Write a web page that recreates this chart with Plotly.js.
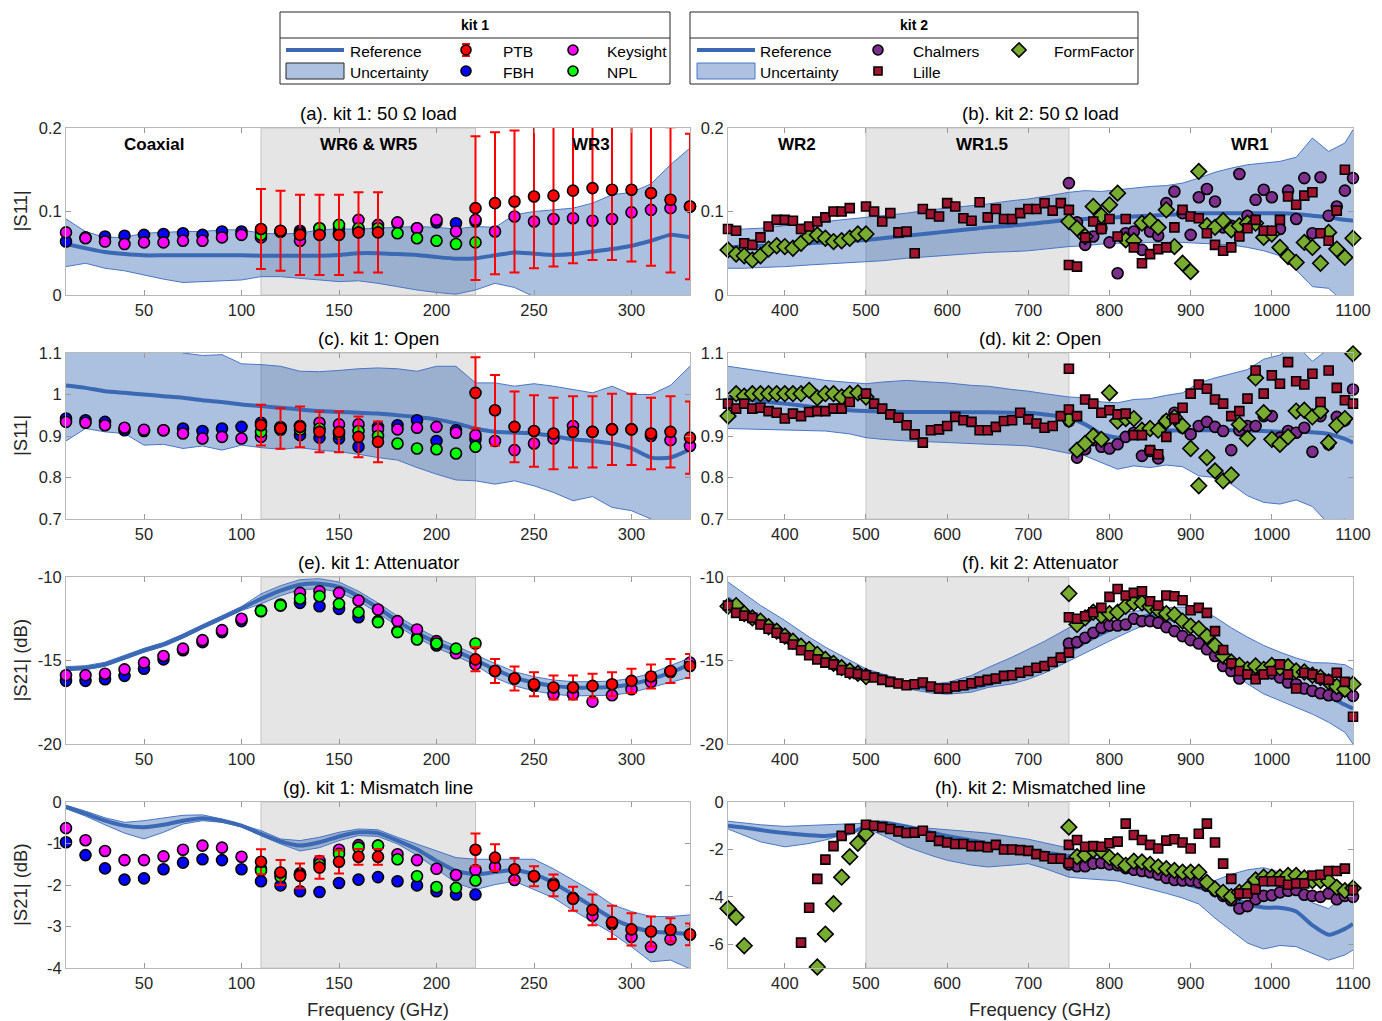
<!DOCTYPE html>
<html><head><meta charset="utf-8">
<script src="https://cdn.plot.ly/plotly-3.0.1.min.js"></script>
<style>body{margin:0;background:#fff}#chart{width:1382px;height:1021px}</style>
</head><body><div id="chart"></div>
<script>
// ---------- frequencies ----------
const F1 = [10,20,30,40,50,60,70,80,90,100,110,120,130,140,150,160,170,180,190,200,210,220,230,240,250,260,270,280,290,300,310,320,330];
const F2low = [330,340,350,360,370,380,390,400,410,420,430,440,450,460,470,480,490,500,510,520,530,540,550,560,570,580,590,600,610,620,630,640,650,660,670,680,690,700,710,720,730,740,750];
const F2wr1 = [750,760,770,780,790,800,810,820,830,840,850,860,870,880,890,900,910,920,930,940,950,960,970,980,990,1000,1010,1020,1030,1040,1050,1060,1070,1080,1090,1100];
const F2ff = [330,340,350,360,370,380,390,400,410,420,430,440,450,460,470,480,490,500];
const F2ref = [330,350,370,400,430,450,480,500,520,550,580,600,630,650,680,700,720,750,770,790,810,830,850,870,890,910,930,950,970,990,1010,1030,1050,1070,1090,1100];

// ---------- (a) kit 1: 50 ohm load ----------
const a_ref = [0.061,0.056,0.0515,0.049,0.0475,0.0475,0.0475,0.0475,0.0475,0.0475,0.047,0.047,0.047,0.047,0.048,0.050,0.050,0.049,0.048,0.0455,0.0435,0.044,0.0475,0.051,0.0495,0.048,0.049,0.052,0.055,0.059,0.065,0.072,0.069];
const a_up = [0.091,0.076,0.069,0.069,0.074,0.075,0.076,0.076,0.078,0.078,0.074,0.073,0.074,0.078,0.079,0.079,0.080,0.081,0.082,0.081,0.079,0.082,0.081,0.096,0.100,0.102,0.104,0.110,0.120,0.123,0.133,0.156,0.176];
const a_lo = [0.034,0.038,0.032,0.029,0.024,0.019,0.015,0.016,0.017,0.018,0.022,0.022,0.020,0.018,0.016,0.017,0.014,0.010,0.006,0.003,0.001,0.006,0.014,0.009,-0.002,-0.01,-0.02,-0.03,-0.04,-0.05,-0.06,-0.06,-0.06];
const a_FBH = [0.064,0.069,0.070,0.071,0.072,0.073,0.074,0.072,0.076,0.076,0.077,0.076,0.077,0.080,0.081,0.078,0.081,0.086,0.080,0.087,0.086,0.088,null,null,null,null,null,null,null,null,null,null,null];
const a_Key = [0.075,0.068,0.064,0.061,0.063,0.063,0.065,0.065,0.069,0.072,0.069,0.076,0.065,0.074,0.074,0.090,0.084,0.087,0.080,0.090,0.076,0.090,0.076,0.094,0.088,0.091,0.092,0.089,0.091,0.099,0.102,0.104,0.106];
const a_NPL = [null,null,null,null,null,null,null,null,null,null,0.072,0.076,0.074,0.080,0.084,0.080,0.080,0.074,0.068,0.065,0.061,0.063,null,null,null,null,null,null,null,null,null,null,null];
const a_PTB = [null,null,null,null,null,null,null,null,null,null,0.079,0.077,0.072,0.072,0.072,0.075,0.075,null,null,null,null,0.104,0.110,0.112,0.118,0.119,0.125,0.128,0.126,0.126,0.122,0.114,0.106];
const a_PTBerr = [0,0,0,0,0,0,0,0,0,0,0.048,0.048,0.048,0.048,0.048,0.048,0.048,0,0,0,0,0.086,0.085,0.085,0.086,0.085,0.087,0.086,0.084,0.086,0.087,0.087,0.087];

// ---------- (c) kit 1: Open ----------
const c_ref = [1.022,1.016,1.008,1.004,1.0,0.996,0.992,0.986,0.982,0.976,0.972,0.968,0.964,0.960,0.958,0.956,0.954,0.950,0.946,0.940,0.930,0.918,0.910,0.908,0.906,0.900,0.892,0.888,0.882,0.870,0.848,0.848,0.868];
const c_up = [1.15,1.15,1.15,1.14,1.13,1.12,1.10,1.094,1.096,1.074,1.072,1.068,1.056,1.055,1.058,1.062,1.064,1.062,1.056,1.068,1.068,1.028,1.028,1.020,1.026,1.020,1.012,1.004,1.020,1.0,1.0,1.022,1.068];
const c_lo = [0.888,0.918,0.910,0.906,0.878,0.880,0.870,0.876,0.866,0.878,0.872,0.868,0.872,0.866,0.862,0.856,0.848,0.842,0.824,0.808,0.794,0.792,0.784,0.792,0.780,0.764,0.744,0.754,0.728,0.720,0.700,0.680,0.664];
const c_FBH = [0.942,0.938,0.934,0.914,0.912,0.914,0.918,0.912,0.918,0.922,0.932,0.921,0.902,0.896,0.894,0.874,0.922,0.926,0.938,0.888,0.914,0.892,null,null,null,null,null,null,null,null,null,null,null];
const c_Key = [0.934,0.932,0.926,0.920,0.915,0.914,0.906,0.894,0.898,0.894,0.898,0.921,0.924,0.932,0.928,0.928,0.916,0.916,0.920,0.922,0.908,0.902,0.888,0.866,0.882,0.894,0.924,0.910,0.916,0.916,0.900,0.890,0.876];
const c_NPL = [null,null,null,null,null,null,null,null,null,null,0.910,0.915,0.915,0.918,0.905,0.912,0.900,0.882,0.870,0.868,0.858,0.874,null,null,null,null,null,null,null,null,null,null,null];
const c_PTB = [null,null,null,null,null,null,null,null,null,null,0.926,0.918,0.922,0.910,0.910,0.898,0.886,null,null,null,null,1.004,0.962,0.922,0.912,0.906,0.910,0.910,0.916,0.916,0.906,0.910,0.896];
const c_PTBerr = [0,0,0,0,0,0,0,0,0,0,0.049,0.049,0.049,0.049,0.049,0.049,0.049,0,0,0,0,0.086,0.085,0.085,0.086,0.086,0.086,0.086,0.086,0.086,0.086,0.086,0.087];

// ---------- (e) kit 1: Attenuator ----------
const e_ref = [-15.49,-15.43,-15.23,-14.83,-14.39,-14.04,-13.54,-12.98,-12.45,-11.89,-11.31,-10.82,-10.46,-10.40,-10.60,-11.15,-11.85,-12.64,-13.34,-13.94,-14.43,-14.97,-15.53,-16.02,-16.32,-16.52,-16.62,-16.62,-16.58,-16.42,-16.12,-15.73,-15.23];
const e_up = [-15.37,-15.31,-15.11,-14.71,-14.27,-13.92,-13.42,-12.86,-12.33,-11.77,-11.01,-10.52,-10.16,-10.10,-10.30,-10.85,-11.55,-12.34,-13.04,-13.64,-14.13,-14.67,-15.18,-15.67,-15.97,-16.17,-16.27,-16.27,-16.23,-16.07,-15.77,-15.30,-14.85];
const e_lo = [-15.61,-15.55,-15.35,-14.95,-14.51,-14.16,-13.66,-13.10,-12.57,-12.01,-11.61,-11.12,-10.76,-10.70,-10.90,-11.45,-12.15,-12.94,-13.64,-14.24,-14.73,-15.27,-16.03,-16.52,-16.82,-17.02,-17.12,-17.12,-17.08,-16.92,-16.62,-16.30,-16.00];
const e_FBH = [-16.22,-16.22,-16.12,-15.92,-15.49,-14.93,-14.39,-13.90,-13.30,-12.64,-12.05,-11.71,-11.55,-11.75,-11.91,-12.41,-12.64,-13.24,-13.64,-14.10,-14.53,-15.13,null,null,null,null,null,null,null,null,null,null,null];
const e_Key = [-15.88,-15.88,-15.79,-15.53,-15.13,-14.73,-14.29,-13.78,-13.18,-12.50,-12.01,-11.65,-10.95,-10.85,-10.95,-11.41,-11.95,-12.64,-13.14,-13.84,-14.57,-15.23,-15.63,-16.08,-16.52,-17.02,-17.02,-17.46,-17.08,-16.72,-16.28,-15.69,-15.13];
const e_NPL = [null,null,null,null,null,null,null,null,null,null,-12.03,-11.70,-11.30,-11.15,-11.61,-12.11,-12.70,-13.30,-13.74,-13.98,-14.29,-13.98,null,null,null,null,null,null,null,null,null,null,null];
const e_PTB = [null,null,null,null,null,null,null,null,null,null,null,null,null,null,null,null,null,null,null,null,null,-14.93,-15.63,-16.08,-16.42,-16.62,-16.62,-16.52,-16.42,-16.22,-15.96,-15.63,-15.33];
const e_PTBerr = [0,0,0,0,0,0,0,0,0,0,0,0,0,0,0,0,0,0,0,0,0,0.72,0.72,0.72,0.72,0.72,0.72,0.72,0.72,0.72,0.72,0.72,0.72];

// ---------- (g) kit 1: Mismatch line ----------
const g_ref = [-0.12,-0.28,-0.45,-0.57,-0.61,-0.55,-0.45,-0.39,-0.45,-0.57,-0.77,-0.95,-1.05,-0.97,-0.83,-0.73,-0.75,-0.93,-1.14,-1.42,-1.66,-1.74,-1.69,-1.64,-1.74,-1.95,-2.23,-2.52,-2.80,-3.0,-3.12,-3.15,-3.18];
const g_up = [-0.08,-0.22,-0.38,-0.49,-0.45,-0.38,-0.32,-0.31,-0.41,-0.55,-0.69,-0.89,-0.93,-0.85,-0.73,-0.65,-0.67,-0.85,-1.01,-1.18,-1.34,-1.38,-1.38,-1.38,-1.38,-1.61,-1.87,-2.15,-2.47,-2.64,-2.76,-2.76,-2.72];
const g_lo = [-0.16,-0.34,-0.55,-0.75,-0.89,-0.73,-0.53,-0.45,-0.49,-0.60,-0.81,-1.01,-1.18,-1.10,-0.93,-0.81,-0.83,-1.01,-1.28,-1.61,-1.95,-2.11,-1.99,-1.91,-2.11,-2.31,-2.61,-2.88,-3.16,-3.49,-3.85,-3.81,-4.02];
const g_FBH = [-0.97,-1.28,-1.60,-1.87,-1.84,-1.62,-1.46,-1.38,-1.40,-1.62,-1.91,-2.01,-2.15,-2.17,-1.95,-1.87,-1.81,-1.91,-2.01,-2.15,-2.23,-2.23,null,null,null,null,null,null,null,null,null,null,null];
const g_Key = [-0.63,-0.92,-1.18,-1.40,-1.40,-1.31,-1.15,-1.05,-1.10,-1.32,-1.61,-1.72,-1.72,-1.42,-1.15,-1.04,-1.05,-1.26,-1.40,-1.61,-1.76,-1.64,-1.56,-1.88,-1.79,-1.97,-2.31,-2.74,-2.94,-3.25,-3.49,-3.31,-3.20];
const g_NPL = [null,null,null,null,null,null,null,null,null,null,-1.65,-1.80,-1.75,-1.50,-1.25,-1.10,-1.05,-1.38,-1.79,-2.05,-2.07,-1.89,null,null,null,null,null,null,null,null,null,null,null];
const g_PTB = [null,null,null,null,null,null,null,null,null,null,-1.44,-1.70,-1.78,-1.58,-1.44,-1.32,-1.32,null,null,null,null,-1.15,-1.34,-1.62,-1.79,-2.01,-2.33,-2.60,-2.90,-3.07,-3.12,-3.08,-3.19];
const g_PTBerr = [0,0,0,0,0,0,0,0,0,0,0.30,0.30,0.30,0.27,0.28,0.19,0.19,0,0,0,0,0.39,0.32,0.27,0.24,0.26,0.29,0.37,0.40,0.39,0.36,0.28,0.26];

// ---------- (b) kit 2: 50 ohm load ----------
const b_ref = [0.057,0.058,0.059,0.060,0.062,0.063,0.065,0.066,0.068,0.071,0.074,0.076,0.079,0.081,0.083,0.085,0.087,0.090,0.091,0.092,0.093,0.094,0.095,0.096,0.097,0.098,0.098,0.098,0.098,0.098,0.098,0.097,0.095,0.093,0.090,0.089];
const b_up = [0.079,0.079,0.080,0.083,0.086,0.088,0.091,0.093,0.095,0.098,0.102,0.104,0.107,0.109,0.113,0.115,0.118,0.123,0.125,0.124,0.126,0.128,0.130,0.131,0.134,0.140,0.147,0.152,0.156,0.158,0.160,0.165,0.188,0.172,0.182,0.198];
const b_lo = [0.032,0.032,0.033,0.034,0.036,0.037,0.039,0.040,0.041,0.044,0.046,0.047,0.049,0.051,0.052,0.053,0.055,0.058,0.059,0.061,0.062,0.062,0.063,0.063,0.063,0.062,0.061,0.060,0.057,0.053,0.047,0.030,0.010,0.008,-0.01,-0.02];
const b_LilleLow = [0.079,0.077,0.062,0.060,0.069,0.082,0.090,0.090,0.089,0.079,0.082,0.088,0.093,0.100,0.100,0.104,null,0.106,0.100,0.088,0.098,0.075,0.076,0.050,0.103,0.097,0.094,0.110,0.106,0.092,0.089,0.111,0.093,0.103,0.091,0.091,0.098,0.103,0.103,0.110,0.101,0.110,0.102];
const b_LilleWR1 = [0.036,0.034,0.069,0.088,0.079,0.091,0.070,0.091,0.057,0.038,0.049,0.055,0.057,0.081,0.102,0.094,0.092,0.074,0.060,0.053,0.057,0.070,0.080,0.090,0.077,0.077,0.090,0.118,0.108,0.119,0.123,0.074,0.065,0.101,0.150,null];
const b_Chalmers = [0.134,0.087,0.060,0.070,0.080,0.063,0.026,0.074,0.076,0.054,0.076,0.071,0.110,0.124,0.098,0.072,0.117,0.127,0.112,0.081,0.083,0.145,0.095,0.114,0.126,0.117,0.079,0.125,0.091,0.140,0.074,0.141,0.095,0.106,0.125,0.140];
const b_FFlow = [0.054,0.049,0.047,0.042,0.047,0.055,0.059,0.058,0.056,0.062,0.070,0.072,0.068,0.064,0.065,0.068,0.073,0.073];
const b_FFwr1 = [0.088,0.080,0.070,0.106,0.095,0.108,0.122,0.066,0.065,0.086,0.089,0.081,0.102,0.058,0.038,0.028,0.148,0.083,0.081,0.089,0.078,0.083,0.086,0.086,0.069,0.073,0.057,0.046,0.039,0.063,0.057,0.038,0.075,0.055,0.045,0.068];

// ---------- (d) kit 2: Open ----------
const d_ref = [0.992,0.988,0.984,0.978,0.971,0.966,0.962,0.960,0.959,0.958,0.958,0.958,0.957,0.957,0.956,0.956,0.952,0.944,0.928,0.905,0.896,0.902,0.910,0.913,0.914,0.914,0.914,0.914,0.913,0.912,0.910,0.910,0.909,0.905,0.893,0.884];
const d_up = [1.068,1.062,1.056,1.048,1.040,1.034,1.029,1.026,1.030,1.034,1.030,1.028,1.022,1.020,1.012,1.008,1.002,0.994,0.992,0.982,0.980,0.988,0.990,0.998,1.004,1.028,1.040,1.050,1.060,1.085,1.095,1.12,1.08,1.11,1.12,1.09];
const d_lo = [0.918,0.917,0.917,0.916,0.914,0.912,0.905,0.896,0.892,0.888,0.886,0.884,0.882,0.880,0.878,0.876,0.870,0.858,0.852,0.836,0.820,0.828,0.824,0.830,0.826,0.804,0.800,0.784,0.756,0.740,0.736,0.746,0.730,0.688,0.700,0.680];
const d_LilleLow = [0.978,0.966,0.978,0.966,0.968,0.960,0.956,0.942,0.954,0.948,0.958,0.960,0.960,0.966,0.966,0.982,null,1.002,0.978,0.966,0.952,0.944,0.926,0.904,0.884,0.914,0.916,0.924,0.946,0.938,0.934,0.914,0.914,0.922,0.936,0.938,0.956,0.940,0.930,0.920,0.924,0.948,0.964];
const d_LilleWR1 = [1.062,0.948,0.988,0.978,0.956,0.962,0.952,0.954,0.902,0.902,0.866,0.856,0.898,0.942,0.968,1.002,1.024,1.014,0.988,0.978,0.948,0.960,0.990,1.058,1.002,1.046,1.026,1.078,1.032,1.024,1.050,0.982,1.058,1.016,0.986,0.978];
const d_Chalmers = [0.936,0.848,0.868,0.890,0.874,0.870,0.880,0.898,0.908,0.852,0.864,0.846,0.938,0.956,0.920,0.904,0.924,0.934,0.922,0.912,0.866,0.914,0.924,0.924,0.948,0.948,0.896,0.912,0.908,0.920,0.862,0.948,0.880,0.946,0.938,1.012];
const d_FFlow = [0.948,1.002,0.996,1.002,1.002,1.002,1.002,1.002,1.002,1.002,1.010,0.992,1.002,1.002,0.994,1.002,1.004,0.994];
const d_FFwr1 = [0.940,0.866,0.882,0.900,0.892,1.004,0.936,0.942,0.942,0.914,0.918,0.914,0.936,0.945,0.924,0.870,0.780,0.848,0.816,0.792,0.806,0.928,0.894,1.040,0.956,0.892,0.880,0.898,0.960,0.962,0.946,0.960,0.884,0.926,0.942,1.098];

// ---------- (f) kit 2: Attenuator ----------
const f_ref = [-11.30,-12.00,-12.60,-13.40,-14.30,-14.80,-15.40,-15.70,-15.95,-16.42,-16.70,-16.76,-16.62,-16.42,-16.00,-15.63,-15.20,-14.43,-13.90,-13.40,-12.95,-12.55,-12.31,-12.45,-12.80,-13.35,-14.05,-14.83,-15.30,-15.75,-16.05,-16.35,-16.72,-17.15,-17.65,-17.87];
const f_up = [-10.30,-11.00,-11.70,-12.60,-13.60,-14.20,-15.00,-15.50,-15.80,-16.28,-16.40,-16.32,-15.90,-15.43,-14.80,-14.33,-13.85,-13.04,-12.65,-12.35,-12.20,-12.05,-11.95,-11.85,-11.80,-11.90,-12.40,-13.04,-13.60,-14.10,-14.50,-14.85,-15.13,-15.15,-15.25,-15.53];
const f_lo = [-11.60,-12.20,-12.80,-13.60,-14.50,-14.95,-15.60,-15.90,-16.15,-16.68,-16.95,-17.02,-16.90,-16.62,-16.40,-16.12,-15.75,-15.03,-14.55,-14.05,-13.60,-13.15,-12.74,-12.80,-13.40,-14.10,-14.90,-15.63,-16.40,-17.00,-17.40,-17.80,-18.21,-18.70,-19.30,-20.0];
const f_LilleLow = [-11.71,-12.15,-12.31,-12.45,-12.84,-13.10,-13.34,-13.64,-14.04,-14.39,-14.69,-14.93,-15.13,-15.23,-15.57,-15.73,-15.80,-15.88,-16.02,-16.16,-16.28,-16.38,-16.48,-16.42,-16.32,-16.56,-16.68,-16.68,-16.56,-16.48,-16.36,-16.26,-16.16,-16.08,-15.92,-15.88,-15.73,-15.63,-15.43,-15.33,-15.09,-14.83,-14.53];
const f_LilleWR1 = [-12.41,-12.50,-12.35,-12.11,-11.85,-11.19,-10.72,-11.11,-10.95,-10.85,-11.45,-11.71,-11.11,-11.15,-11.39,-11.99,-11.85,-12.15,-13.24,-14.37,-15.17,-15.63,-15.83,-16.12,-15.83,-15.63,-15.23,-15.83,-16.68,-15.73,-15.83,-16.08,-16.16,-15.73,-16.28,-18.37];
const f_Chalmers = [-13.98,-13.90,-13.64,-13.34,-13.04,-12.90,-12.90,-12.84,-12.50,-12.64,-12.64,-12.74,-13.00,-13.24,-13.54,-13.78,-13.98,-14.33,-14.73,-15.33,-15.63,-16.08,-15.73,-15.73,-15.73,-15.77,-16.02,-16.32,-16.42,-16.68,-16.82,-16.96,-17.08,-17.12,-16.82,-17.12];
const f_FFlow = [-11.75,-11.71,-12.19,-12.45,-12.64,-12.98,-13.24,-13.54,-13.84,-14.14,-14.33,-14.63,-14.93,-15.17,-15.43,-15.63,-15.77,-15.96];
const f_FFwr1 = [-10.99,-12.84,-12.45,-12.11,-12.31,-12.19,-12.11,-11.75,-11.55,-11.55,-11.75,-11.95,-12.19,-12.25,-12.64,-12.94,-13.10,-13.54,-14.10,-14.73,-15.09,-15.29,-15.53,-15.33,-15.53,-15.29,-15.43,-15.37,-15.63,-15.69,-15.88,-16.02,-16.28,-16.56,-16.72,-16.42];

// ---------- (h) kit 2: Mismatched line ----------
const h_ref = [-1.00,-1.08,-1.18,-1.31,-1.40,-1.43,-1.31,-1.03,-0.86,-1.03,-1.28,-1.43,-1.62,-1.74,-1.92,-2.03,-2.13,-2.29,-2.44,-2.58,-2.75,-2.92,-3.10,-3.26,-3.42,-3.60,-3.82,-4.03,-4.30,-4.45,-4.46,-4.62,-5.20,-5.60,-5.35,-5.14];
const h_up = [-0.81,-0.88,-0.96,-1.03,-1.00,-0.96,-0.92,-0.89,-0.92,-1.03,-1.12,-1.17,-1.26,-1.31,-1.47,-1.57,-1.72,-1.96,-2.10,-2.22,-2.36,-2.53,-2.71,-2.90,-3.08,-3.24,-3.31,-3.05,-2.86,-2.77,-2.95,-3.55,-4.25,-4.50,-3.90,-3.53];
const h_lo = [-1.14,-1.40,-1.68,-1.89,-1.75,-1.60,-1.30,-1.10,-1.40,-1.89,-2.25,-2.46,-2.66,-2.74,-2.66,-2.60,-2.80,-3.17,-3.23,-3.29,-3.33,-3.50,-3.67,-3.85,-4.05,-4.30,-4.90,-5.43,-5.95,-6.20,-6.05,-6.10,-6.40,-6.67,-6.45,-6.24];
const h_LilleLow = [null,null,null,null,null,null,null,null,null,-5.93,-4.46,-3.24,-2.43,-1.86,-1.43,-1.14,null,-0.96,-1.00,-1.06,-1.14,-1.24,-1.31,-1.29,-1.21,-1.46,-1.64,-1.71,-1.77,-1.77,-1.86,-1.86,-1.91,-1.81,-2.00,-2.00,-2.03,-2.06,-2.20,-2.29,-2.39,-2.39,-2.57];
const h_LilleWR1 = [-1.81,-1.60,-1.89,-1.86,-1.89,-1.74,-1.67,-0.91,-1.39,-1.60,-1.81,-1.96,-1.63,-1.57,-1.71,-1.96,-1.34,-0.91,-1.71,-2.60,-3.24,-3.86,-3.86,-3.67,-3.34,-3.34,-3.34,-3.49,-3.43,-3.43,-3.10,-3.07,-2.91,-2.91,-2.81,-3.71];
const h_Chalmers = [-2.63,-2.71,-2.71,-2.60,-2.57,-2.63,-2.67,-2.79,-2.86,-2.91,-2.96,-3.06,-3.20,-3.29,-3.31,-3.31,-3.39,-3.53,-3.74,-3.96,-4.14,-4.49,-4.39,-4.10,-3.96,-3.93,-3.81,-3.74,-3.71,-3.91,-3.96,-4.00,-3.86,-4.10,-3.96,-4.00];
const h_FFlow = [-4.49,-4.86,-6.06,null,null,null,null,null,null,null,null,-6.96,-5.57,-4.29,-3.17,-2.31,-1.74,-1.34];
const h_FFwr1 = [-1.06,-2.31,-2.24,-2.03,-2.06,-2.34,-2.49,-2.67,-2.50,-2.53,-2.63,-2.74,-2.81,-2.89,-2.96,-2.96,-2.96,-3.39,-3.67,-3.81,-3.99,-3.81,-3.67,-3.29,-3.17,-3.17,-3.17,-3.10,-3.10,-3.20,-3.31,-3.31,-3.34,-3.60,-3.74,-3.63];

// ---------- text ----------
const titles = ['(a). kit 1: 50 Ω load','(b). kit 2: 50 Ω load','(c). kit 1: Open','(d). kit 2: Open','(e). kit 1: Attenuator','(f). kit 2: Attenuator','(g). kit 1: Mismatch line','(h). kit 2: Mismatched line'];
const regionsK1 = [{t:'Coaxial',f:55},{t:'WR6 & WR5',f:165},{t:'WR3',f:279}];
const regionsK2 = [{t:'WR2',f:415},{t:'WR1.5',f:643},{t:'WR1',f:973}];

// ---------- style ----------
const REF = '#3c69b4', EDGE = '#4a76c6', FILL = 'rgba(25,80,165,0.36)';
const C = {PTB:'#ff0000', FBH:'#0000ff', Key:'#ff00ff', NPL:'#00ff00', Chal:'#7e2f8e', Lille:'#a2142f', FF:'#77ac30'};
const FONT = 'Liberation Sans, Arial, sans-serif';
const W = 1382, H = 1021;

const traces = [];
function band(n, F, up, lo, ref){
  const xa = 'x'+(n===1?'':n), ya = 'y'+(n===1?'':n);
  traces.push({x:F, y:up, xaxis:xa, yaxis:ya, mode:'lines', line:{color:EDGE, width:1}, showlegend:false, hoverinfo:'skip'});
  traces.push({x:F, y:lo, xaxis:xa, yaxis:ya, mode:'lines', line:{color:EDGE, width:1}, fill:'tonexty', fillcolor:FILL, showlegend:false, hoverinfo:'skip'});
  traces.push({x:F, y:ref, xaxis:xa, yaxis:ya, mode:'lines', line:{color:REF, width:4, shape:'spline', smoothing:0.6}, showlegend:false});
}
function pts(n, F, y, color, symbol, size, err){
  const xa = 'x'+(n===1?'':n), ya = 'y'+(n===1?'':n);
  const t = {x:F, y:y, xaxis:xa, yaxis:ya, mode:'markers', showlegend:false, cliponaxis:false,
    marker:{color:color, symbol:symbol, size:size, line:{color:'#000', width:1.6}}};
  if (err) t.error_y = {type:'data', array:err, visible:true, color:'#ff0000', thickness:2, width:5};
  traces.push(t);
}
const k1 = [[1,a_ref,a_up,a_lo,a_FBH,a_Key,a_NPL,a_PTB,a_PTBerr],[3,c_ref,c_up,c_lo,c_FBH,c_Key,c_NPL,c_PTB,c_PTBerr],[5,e_ref,e_up,e_lo,e_FBH,e_Key,e_NPL,e_PTB,e_PTBerr],[7,g_ref,g_up,g_lo,g_FBH,g_Key,g_NPL,g_PTB,g_PTBerr]];
k1.forEach(p=>{
  band(p[0], F1, p[2], p[3], p[1]);
  pts(p[0], F1, p[4], C.FBH, 'circle', 11);
  pts(p[0], F1, p[5], C.Key, 'circle', 11);
  pts(p[0], F1, p[6], C.NPL, 'circle', 11);
  pts(p[0], F1, p[7], C.PTB, 'circle', 11, p[8]);
});
const k2 = [[2,b_ref,b_up,b_lo,b_Chalmers,b_FFlow,b_FFwr1,b_LilleLow,b_LilleWR1],[4,d_ref,d_up,d_lo,d_Chalmers,d_FFlow,d_FFwr1,d_LilleLow,d_LilleWR1],[6,f_ref,f_up,f_lo,f_Chalmers,f_FFlow,f_FFwr1,f_LilleLow,f_LilleWR1],[8,h_ref,h_up,h_lo,h_Chalmers,h_FFlow,h_FFwr1,h_LilleLow,h_LilleWR1]];
k2.forEach(p=>{
  band(p[0], F2ref, p[2], p[3], p[1]);
  pts(p[0], F2wr1, p[4], C.Chal, 'circle', 11);
  pts(p[0], F2ff.concat(F2wr1), p[5].concat(p[6]), C.FF, 'diamond', 12);
  pts(p[0], F2low.concat(F2wr1), p[7].concat(p[8]), C.Lille, 'square', 9);
});

// ---------- legend samples on an overlay pixel axis ----------
function lg(x, y, color, symbol, size, err){
  const t = {x:[x], y:[y], xaxis:'x9', yaxis:'y9', mode:'markers', showlegend:false, cliponaxis:false,
    marker:{color:color, symbol:symbol, size:size, line:{color:'#000', width:1.6}}};
  if (err) t.error_y = {type:'constant', value:6, color:'#ff0000', thickness:2, width:4};
  traces.push(t);
}
traces.push({x:[286,344], y:[50,50], xaxis:'x9', yaxis:'y9', mode:'lines', line:{color:REF, width:4}, showlegend:false});
traces.push({x:[697,755], y:[50,50], xaxis:'x9', yaxis:'y9', mode:'lines', line:{color:REF, width:4}, showlegend:false});
lg(466, 50, C.PTB, 'circle', 10, true);
lg(466, 71, C.FBH, 'circle', 10);
lg(573, 50, C.Key, 'circle', 10);
lg(573, 71, C.NPL, 'circle', 10);
lg(878, 50, C.Chal, 'circle', 10);
lg(878, 71, C.Lille, 'square', 8);
lg(1019, 50, C.FF, 'diamond', 11);

// ---------- axes ----------
const XL = [66/W, 690/W], XR = [728/W, 1353/W];
const rowsPx = [[128,295],[353,519],[577,744],[802,968]];
const rowDom = rowsPx.map(r=>[1-r[1]/H, 1-r[0]/H]);
const layout = {width:W, height:H, margin:{l:0,r:0,t:0,b:0}, paper_bgcolor:'#fff', plot_bgcolor:'rgba(0,0,0,0)',
  font:{family:FONT, size:16, color:'#262626'}, showlegend:false, shapes:[], annotations:[]};
const yr = [[0,0.2],[0.7,1.1],[-20,-10]];
const yt = [[0,0.1,0.2],[0.7,0.8,0.9,1,1.1],[-20,-15,-10]];
const ytt = [['0','0.1','0.2'],['0.7','0.8','0.9','1','1.1'],['-20','-15','-10']];
function axBase(){return {showgrid:false, zeroline:false, showline:true, mirror:'ticks', linecolor:'#b8b8b8', linewidth:1,
  ticks:'inside', ticklen:5, tickcolor:'#9a9a9a', tickfont:{family:FONT, size:16.5, color:'#262626'}, fixedrange:true};}
for (let n=1;n<=8;n++){
  const row = Math.floor((n-1)/2), left = (n%2===1);
  const xa = Object.assign(axBase(), {domain: left?XL:XR, anchor:'y'+(n===1?'':n),
    range: left?[10,330]:[330,1100], tickmode:'array',
    tickvals: left?[50,100,150,200,250,300]:[400,500,600,700,800,900,1000,1100]});
  let ya = Object.assign(axBase(), {domain:rowDom[row], anchor:'x'+(n===1?'':n), tickmode:'array'});
  if (row<3){ ya.range=yr[row]; ya.tickvals=yt[row]; ya.ticktext=ytt[row]; }
  else if (left){ ya.range=[-4,0]; ya.tickvals=[-4,-3,-2,-1,0]; ya.ticktext=['-4','-3','-2','-1','0']; }
  else { ya.range=[-7,0]; ya.tickvals=[-6,-4,-2,0]; ya.ticktext=['-6','-4','-2','0']; }
  layout['xaxis'+(n===1?'':n)] = xa;
  layout['yaxis'+(n===1?'':n)] = ya;
  layout.shapes.push({type:'rect', xref:'x'+(n===1?'':n), yref:'y'+(n===1?'':n)+' domain',
    x0: left?110:500, x1: left?220:750, y0:0, y1:1, fillcolor:'#e5e5e5', line:{color:'#c4c4c4', width:1}, layer:'below'});
  layout.annotations.push({xref:'x9', yref:'y9', x: left?378:1040, y: rowsPx[row][0]-15, text:titles[n-1],
    showarrow:false, font:{family:FONT, size:18.5, color:'#000'}, yanchor:'middle'});
}
layout.xaxis9 = {domain:[0,1], range:[0,W], visible:false, fixedrange:true, anchor:'y9'};
layout.yaxis9 = {domain:[0,1], range:[H,0], visible:false, fixedrange:true, anchor:'x9'};

regionsK1.forEach(r=>layout.annotations.push({xref:'x', yref:'y', x:r.f, y:0.18, text:'<b>'+r.t+'</b>', showarrow:false, font:{family:FONT, size:17, color:'#000'}}));
regionsK2.forEach(r=>layout.annotations.push({xref:'x2', yref:'y2', x:r.f, y:0.18, text:'<b>'+r.t+'</b>', showarrow:false, font:{family:FONT, size:17, color:'#000'}}));

const yTitles = ['|S11|','|S11|','|S21| (dB)','|S21| (dB)'];
rowsPx.forEach((r,i)=>layout.annotations.push({xref:'x9', yref:'y9', x:20, y:(r[0]+r[1])/2, text:yTitles[i], textangle:-90,
  showarrow:false, font:{family:FONT, size:18.5, color:'#262626'}}));
[378,1040].forEach(x=>layout.annotations.push({xref:'x9', yref:'y9', x:x, y:1009, text:'Frequency (GHz)', showarrow:false, font:{family:FONT, size:18.5, color:'#262626'}}));

function box(x0,x1){
  layout.shapes.push({type:'rect', xref:'x9', yref:'y9', x0:x0, x1:x1, y0:12, y1:84, line:{color:'#262626', width:1}, fillcolor:'rgba(0,0,0,0)'});
  layout.shapes.push({type:'line', xref:'x9', yref:'y9', x0:x0, x1:x1, y0:38, y1:38, line:{color:'#262626', width:1}});
}
box(280,670); box(690,1138);
layout.shapes.push({type:'rect', xref:'x9', yref:'y9', x0:286, x1:344, y0:63, y1:79, fillcolor:'#afc1e0', line:{color:'#262626', width:1}});
layout.shapes.push({type:'rect', xref:'x9', yref:'y9', x0:697, x1:755, y0:63, y1:79, fillcolor:'#afc1e0', line:{color:EDGE, width:1}});
const lgText = [[475,25,'<b>kit 1</b>','center'],[914,25,'<b>kit 2</b>','center'],
  [348,51,'Reference','left'],[348,72,'Uncertainty','left'],[501,51,'PTB','left'],[501,72,'FBH','left'],[605,51,'Keysight','left'],[605,72,'NPL','left'],
  [758,51,'Reference','left'],[758,72,'Uncertainty','left'],[911,51,'Chalmers','left'],[911,72,'Lille','left'],[1052,51,'FormFactor','left']];
lgText.forEach(t=>layout.annotations.push({xref:'x9', yref:'y9', x:t[0], y:t[1], text:t[2], xanchor:t[3], showarrow:false,
  font:{family:FONT, size: t[2].startsWith('<b>')?14:15.5, color:'#000'}}));

Plotly.newPlot('chart', traces, layout, {staticPlot:true, displayModeBar:false});
</script></body></html>
